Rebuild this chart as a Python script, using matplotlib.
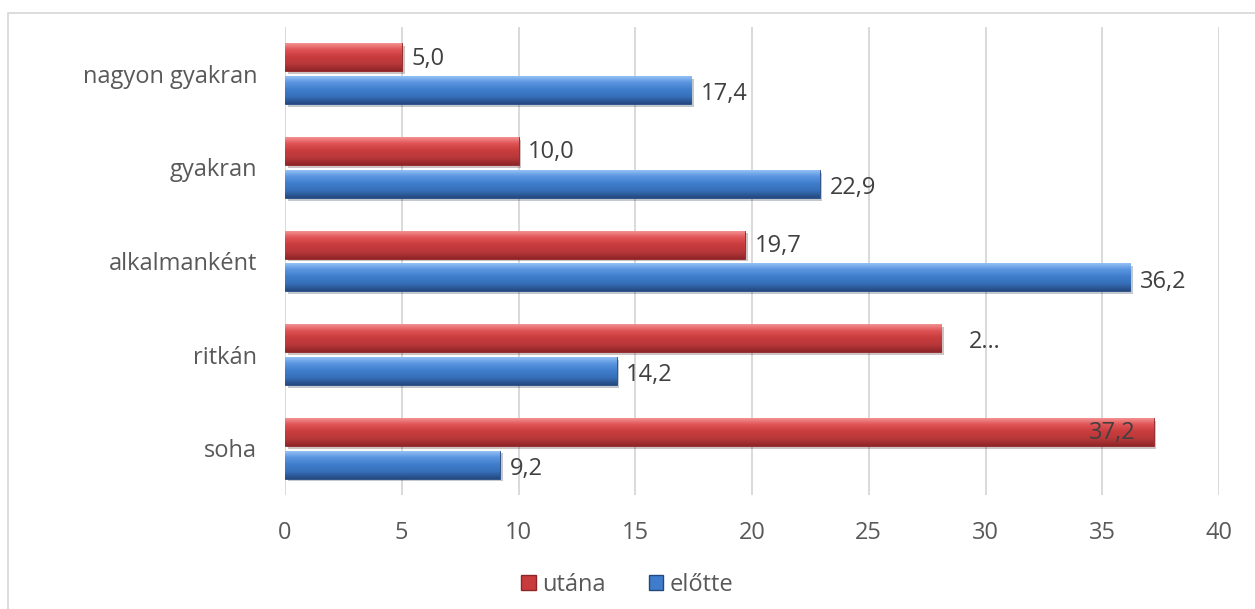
import numpy as np
import matplotlib.pyplot as plt
from matplotlib.lines import Line2D
from matplotlib.patches import Patch
import matplotlib.patheffects as pe
from matplotlib.colors import LinearSegmentedColormap

plt.rcParams['font.family'] = ['Open Sans', 'DejaVu Sans']

# data (bottom to top)
categories = ["soha", "ritkán", "alkalmanként", "gyakran", "nagyon gyakran"]
utana = [37.2, 28.1, 19.7, 10.0, 5.0]
elotte = [9.2, 14.2, 36.2, 22.9, 17.4]
utana_labels = ["37,2", "2…", "19,7", "10,0", "5,0"]
elotte_labels = ["9,2", "14,2", "36,2", "22,9", "17,4"]
xticks = [0, 5, 10, 15, 20, 25, 30, 35, 40]

FS = 17

fig = plt.figure(figsize=(12.55, 6.09), dpi=100)
ax = fig.add_axes([285 / 1255, 1 - 495 / 609, 934 / 1255, 468 / 609])

y = np.arange(len(categories))
h = 0.3
off = 0.175

red_cmap = LinearSegmentedColormap.from_list(
    "r", ["#F59A9A", "#E05456", "#C93C3E", "#B8383A", "#8E2527"])
blue_cmap = LinearSegmentedColormap.from_list(
    "b", ["#9CC8F8", "#5A95E0", "#3F7DCC", "#366FB8", "#24497F"])

shadow = [pe.SimplePatchShadow(offset=(2, -2), alpha=0.25), pe.Normal()]
bars_u = ax.barh(y + off, utana, height=h, color="#C93C3E", edgecolor="#8E2527",
                 linewidth=0.6, zorder=2, path_effects=shadow)
bars_e = ax.barh(y - off, elotte, height=h, color="#3F7DCC", edgecolor="#24497F",
                 linewidth=0.6, zorder=2, path_effects=shadow)

# bevel-like vertical gradient on each bar
grad = np.linspace(0, 1, 64).reshape(-1, 1)
for bars, cmap in [(bars_u, red_cmap), (bars_e, blue_cmap)]:
    for b in bars:
        x0, y0 = b.get_x(), b.get_y()
        w, hh = b.get_width(), b.get_height()
        im = ax.imshow(grad, cmap=cmap, aspect="auto", origin="upper",
                       extent=[x0, x0 + w, y0, y0 + hh], zorder=3)
        im.set_clip_path(b)

ax.set_xlim(0, 40)
ax.set_ylim(-0.5, len(categories) - 0.5)
ax.set_xticks(xticks)
ax.set_yticks(y)
ax.set_yticklabels(categories)
ax.tick_params(axis="both", length=0, labelsize=FS, colors="#595959")
ax.tick_params(axis="y", pad=20)
ax.tick_params(axis="x", pad=19)
ax.grid(axis="x", color="#D9D9D9", linewidth=1.4, zorder=0)
ax.set_axisbelow(True)
for s in ax.spines.values():
    s.set_visible(False)

# data labels
for b, lab in zip(bars_u, utana_labels):
    cy = b.get_y() + b.get_height() / 2
    if lab == "37,2":
        ax.annotate(lab, (b.get_width(), cy), xytext=(-13, -1), textcoords="offset points",
                    ha="right", va="center", fontsize=FS, color="#404040", zorder=5)
    elif lab == "2…":
        ax.annotate(lab, (b.get_width(), cy), xytext=(20, -3), textcoords="offset points",
                    ha="left", va="center", fontsize=FS, color="#404040", zorder=5)
    else:
        ax.annotate(lab, (b.get_width(), cy), xytext=(7, -1), textcoords="offset points",
                    ha="left", va="center", fontsize=FS, color="#404040", zorder=5)
for b, lab in zip(bars_e, elotte_labels):
    cy = b.get_y() + b.get_height() / 2
    ax.annotate(lab, (b.get_width(), cy), xytext=(7, -3), textcoords="offset points",
                ha="left", va="center", fontsize=FS, color="#404040", zorder=5)

handles = [Patch(facecolor="#C93C3E", edgecolor="#8E2527", label="utána"),
           Patch(facecolor="#3F7DCC", edgecolor="#24497F", label="előtte")]
fig.legend(handles=handles, loc="center", bbox_to_anchor=(0.5, 1 - 585 / 609), ncol=2,
           frameon=False, fontsize=FS, labelcolor="#595959", handlelength=0.6,
           handleheight=0.6, handletextpad=0.3, columnspacing=1.8)

# chart area border (left and top)
fig.add_artist(Line2D([8 / 1255, 8 / 1255, 1.0], [0, 1 - 13 / 609, 1 - 13 / 609],
                      transform=fig.transFigure, color="#D9D9D9", linewidth=1.3))

fig.savefig("out.png", dpi=100)
